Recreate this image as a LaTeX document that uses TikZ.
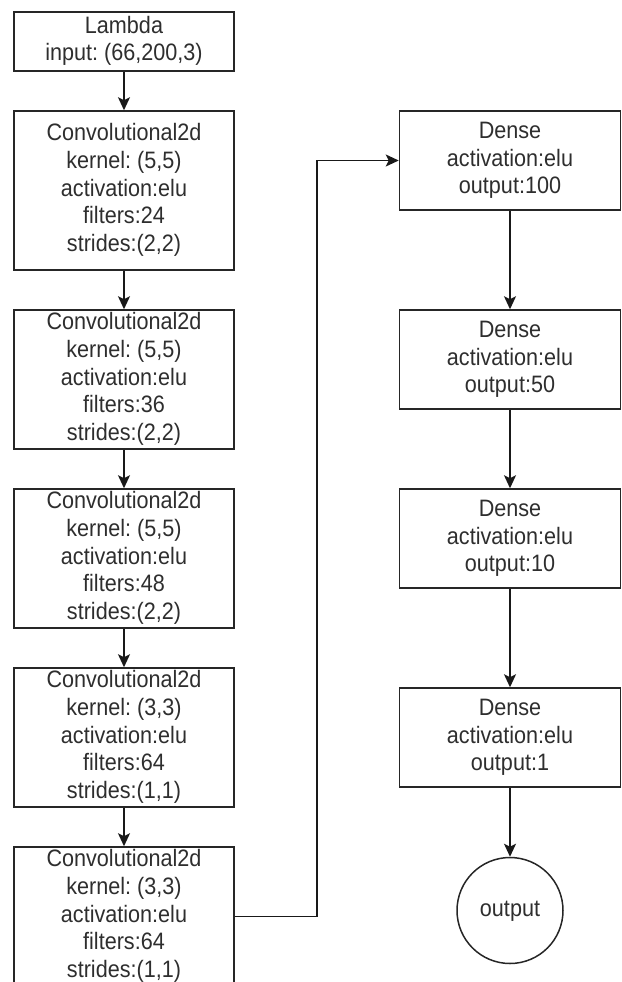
\documentclass[tikz,border=0pt]{standalone}
\usepackage{fontspec}
\usepackage{graphicx}
\setmainfont{Liberation Sans}
\usetikzlibrary{arrows.meta}
\frenchspacing
\newcommand{\mltext}[1]{\scalebox{1}[1.1]{\fontsize{21.6}{25.2}\selectfont\frenchspacing\begin{tabular}{@{}c@{}}#1\end{tabular}}}
\begin{document}
\begin{tikzpicture}[x=1pt,y=-1pt,
  box/.style={draw=black!85, line width=1.5pt, inner sep=0pt, align=center,
    text=black!82},
  conn/.style={draw=black!90, line width=1.6pt, -{Stealth[length=13pt,width=12pt,inset=3pt]}}]
\useasboundingbox (0,0) rectangle (621,982);
\clip (0,0) rectangle (621,982);
% left column
\node[box, minimum width=220pt, minimum height=59pt] (lam) at (124,41.5) {\mltext{Lambda\\input: (66,200,3)}};
\node[box, minimum width=220pt, minimum height=159pt] (c1) at (124,190.5) {\mltext{Convolutional2d\\kernel: (5,5)\\activation:elu\\filters:24\\strides:(2,2)}};
\node[box, minimum width=220pt, minimum height=139pt] (c2) at (124,379.5) {\mltext{Convolutional2d\\kernel: (5,5)\\activation:elu\\filters:36\\strides:(2,2)}};
\node[box, minimum width=220pt, minimum height=139pt] (c3) at (124,558.5) {\mltext{Convolutional2d\\kernel: (5,5)\\activation:elu\\filters:48\\strides:(2,2)}};
\node[box, minimum width=220pt, minimum height=139pt] (c4) at (124,737.5) {\mltext{Convolutional2d\\kernel: (3,3)\\activation:elu\\filters:64\\strides:(1,1)}};
\node[box, minimum width=220pt, minimum height=139pt] (c5) at (124,916.5) {\mltext{Convolutional2d\\kernel: (3,3)\\activation:elu\\filters:64\\strides:(1,1)}};
% right column
\node[box, minimum width=221pt, minimum height=99pt] (d1) at (510,160.5) {\mltext{Dense\\activation:elu\\output:100}};
\node[box, minimum width=221pt, minimum height=99pt] (d2) at (510,359.5) {\mltext{Dense\\activation:elu\\output:50}};
\node[box, minimum width=221pt, minimum height=99pt] (d3) at (510,538.5) {\mltext{Dense\\activation:elu\\output:10}};
\node[box, minimum width=221pt, minimum height=99pt] (d4) at (510,737.5) {\mltext{Dense\\activation:elu\\output:1}};
\node[box, circle, minimum size=106pt] (out) at (510,910.5) {\mltext{output}};
% connectors
\draw[conn] (lam) -- (c1);
\draw[conn] (c1) -- (c2);
\draw[conn] (c2) -- (c3);
\draw[conn] (c3) -- (c4);
\draw[conn] (c4) -- (c5);
\coordinate (k1) at (317,916.5);
\coordinate (k2) at (317,160.5);
\draw[conn] (c5.east) -- (k1) -- (k2) -- (d1.west);
\draw[conn] (d1) -- (d2);
\draw[conn] (d2) -- (d3);
\draw[conn] (d3) -- (d4);
\draw[conn] (d4) -- (out);
\end{tikzpicture}
\end{document}
